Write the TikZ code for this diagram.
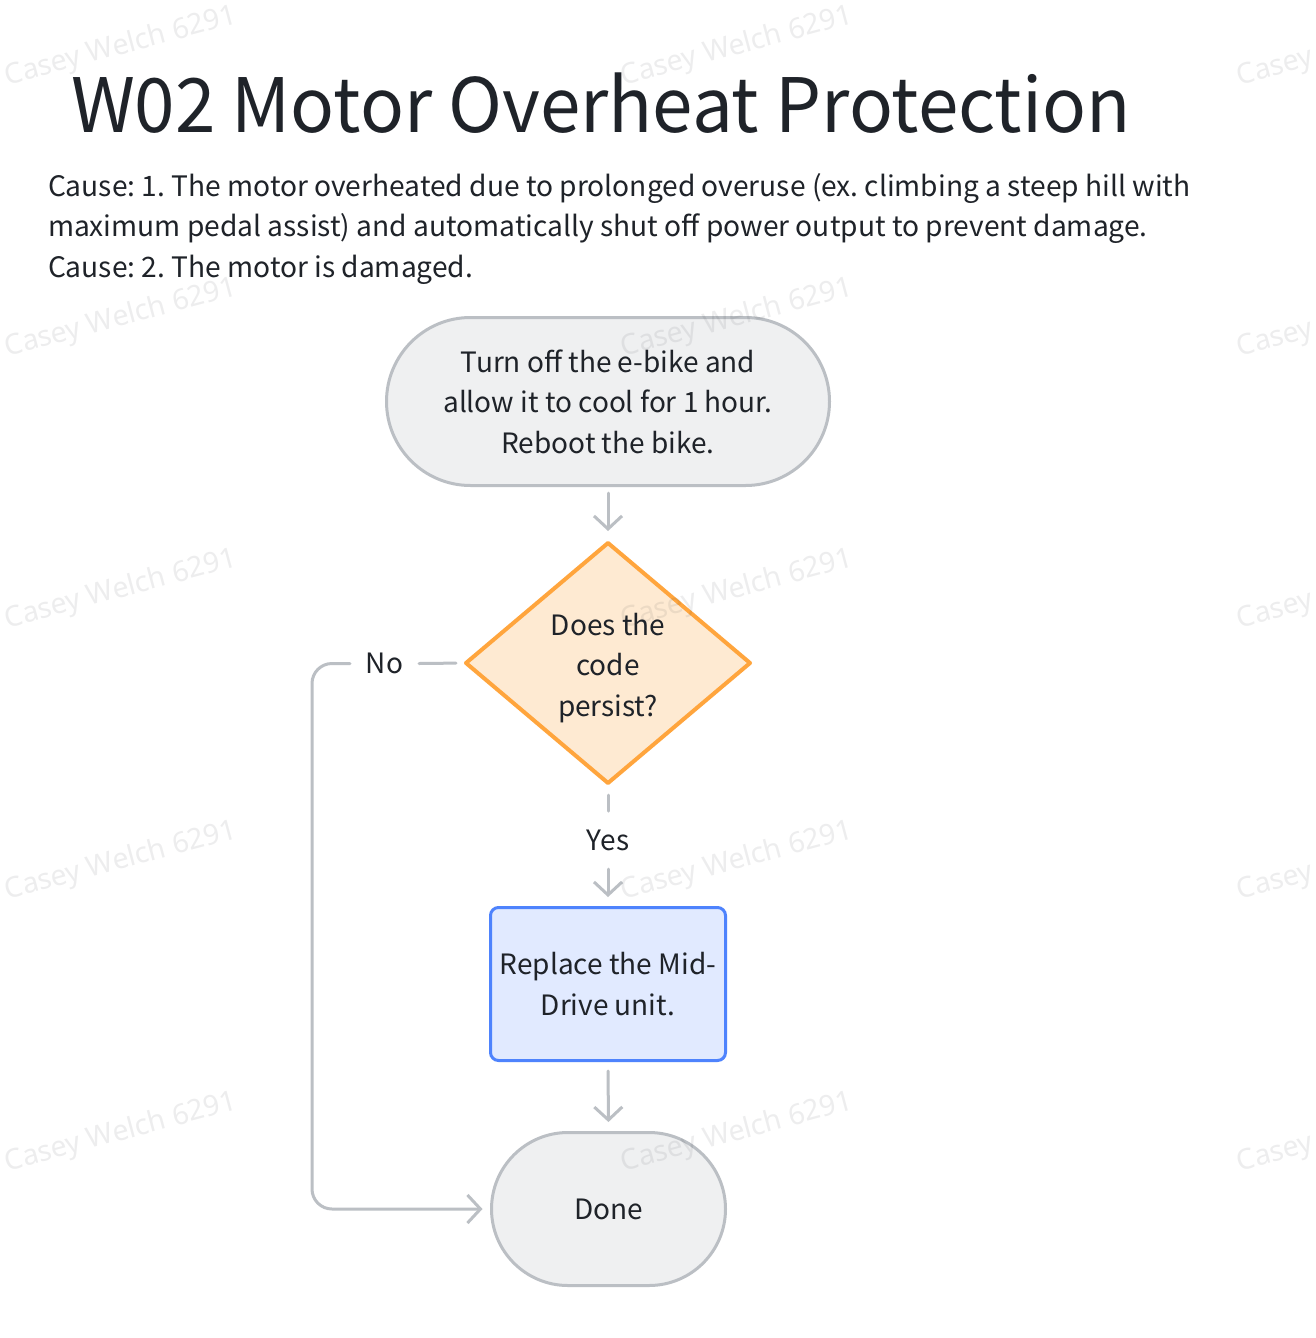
\documentclass[tikz,border=0pt]{standalone}
\usepackage{fontspec}
\setmainfont{Noto Sans CJK SC}
\newfontfamily\titlefont[FakeStretch=0.97]{Noto Sans CJK SC}
\newfontfamily\wmfont{Noto Sans}
\usetikzlibrary{arrows.meta,shapes.geometric}
\definecolor{ink}{HTML}{1F2329}
\definecolor{lineg}{HTML}{BBBFC4}
\definecolor{grayfill}{HTML}{EFF0F1}
\definecolor{orfill}{HTML}{FEEAD2}
\definecolor{orline}{HTML}{FFA53D}
\definecolor{blfill}{HTML}{E1EAFF}
\definecolor{blline}{HTML}{4E83FD}
\frenchspacing
\begin{document}
\begin{tikzpicture}[x=1pt,y=-1pt,
  every node/.style={text=ink, outer sep=0pt},
  body/.style={font=\fontsize{28}{40.5}\selectfont, align=center},
  termbox/.style={body, draw=lineg, fill=grayfill, line width=3pt, inner sep=0pt},
  decbox/.style={diamond, draw=orline, fill=orfill, line width=4pt, line join=round, inner sep=0pt},
  procbox/.style={body, draw=blline, fill=blfill, line width=3pt, rounded corners=8pt, inner sep=0pt},
  lbl/.style={font=\fontsize{28}{28}\selectfont, inner sep=0pt},
  causetext/.style={font=\fontsize{28.15}{40.5}\selectfont, anchor=base west, inner sep=0pt},
  conn/.style={draw=lineg, line width=3pt, line cap=round, line join=round},
  arr/.style={conn, -{Straight Barb[length=13pt,width=28pt]}},
  wm/.style={font=\wmfont\fontsize{28.5}{28.5}\selectfont, text=ink, text opacity=0.08, rotate=15, inner sep=0pt},
]
\useasboundingbox[fill=white] (0,0) rectangle (1316,1338);

\node[anchor=base west, inner sep=0pt, font=\titlefont\fontsize{75}{75}\selectfont] (title) at (71,132) {W02 Motor Overheat Protection};
\node[causetext] (cause1) at (48,196) {Cause: 1. The motor overheated due to prolonged overuse (ex. climbing a steep hill with};
\node[causetext] (cause2) at (48,236.5) {maximum pedal assist) and automatically shut off power output to prevent damage.};
\node[causetext] (cause3) at (48,277) {Cause: 2. The motor is damaged.};

\node[termbox, minimum width=443pt, minimum height=168pt, rounded corners=84pt] (start) at (608,401.5)
  {Turn off the e-bike and\\allow it to cool for 1 hour.\\Reboot the bike.};
\node[decbox, minimum width=284pt, minimum height=240pt] (dec) at (608,663) {};
\node[body, inner sep=0pt] (dectext) at (608,668) {Does the\\code\\persist?};
\node[procbox, minimum width=235pt, minimum height=153pt] (proc) at (608,984)
  {Replace the Mid-\\Drive unit.};
\node[termbox, minimum width=234pt, minimum height=153pt, rounded corners=76.5pt] (done) at (608.5,1209)
  {Done};

\node[lbl, minimum height=58pt] (yes) at (608,840) {Yes};
\node[lbl, minimum width=69pt] (no) at (384.5,663.5) {No};
\coordinate (c1) at (312,663.5);
\coordinate (c2) at (312,1209);

\draw[arr, shorten <=7.5pt, shorten >=12pt] (start.south) -- (dec.north);
\draw[conn, shorten <=12pt] (dec.south) -- (yes.north);
\draw[arr, shorten >=10.5pt] (yes.south) -- (proc.north);
\draw[arr, shorten <=10.5pt, shorten >=10.5pt] (proc.south) -- (done.north);
\draw[conn, shorten <=10pt] (dec.west) -- (no.east);
\draw[arr, rounded corners=20pt, shorten >=9pt] (no.west) -- (c1) -- (c2) -- (done.west);

\begin{scope}
\clip (0,0) rectangle (1316,1338);
\foreach \i in {0,1,2} {
  \foreach \j in {0,1,2,3,4} {
    \node[wm] (wm\i\j) at (121+616*\i, 47+271.5*\j) {Casey Welch 6291};
  }
}
\end{scope}
\end{tikzpicture}
\end{document}
